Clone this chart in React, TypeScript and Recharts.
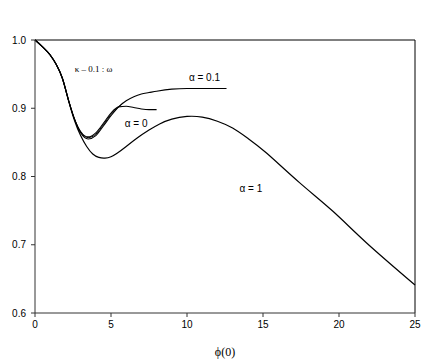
import React from 'react';
import {
  LineChart,
  Line,
  XAxis,
  YAxis,
  ReferenceLine,
  ReferenceDot,
} from 'recharts';

// x = phi(0), y = value
const alpha0 = [
  { x: 0, y: 1.0 }, { x: 0.5, y: 0.99 }, { x: 1.0, y: 0.978 }, { x: 1.4, y: 0.964 },
  { x: 1.8, y: 0.944 }, { x: 2.2, y: 0.912 }, { x: 2.6, y: 0.884 }, { x: 3.0, y: 0.866 },
  { x: 3.5, y: 0.858 }, { x: 4.0, y: 0.864 }, { x: 4.5, y: 0.878 }, { x: 5.0, y: 0.893 },
  { x: 5.5, y: 0.902 }, { x: 6.0, y: 0.903 }, { x: 6.5, y: 0.901 }, { x: 7.0, y: 0.899 },
  { x: 7.5, y: 0.898 }, { x: 8.0, y: 0.898 },
];

const alphaMid = [
  { x: 0, y: 1.0 }, { x: 0.5, y: 0.99 }, { x: 1.0, y: 0.978 }, { x: 1.4, y: 0.964 },
  { x: 1.8, y: 0.944 }, { x: 2.2, y: 0.912 }, { x: 2.6, y: 0.884 }, { x: 3.0, y: 0.865 },
  { x: 3.5, y: 0.857 }, { x: 4.0, y: 0.862 }, { x: 4.5, y: 0.876 }, { x: 5.0, y: 0.891 },
  { x: 5.5, y: 0.902 }, { x: 5.8, y: 0.908 },
];

const alpha01 = [
  { x: 0, y: 1.0 }, { x: 0.5, y: 0.99 }, { x: 1.0, y: 0.978 }, { x: 1.4, y: 0.964 },
  { x: 1.8, y: 0.944 }, { x: 2.2, y: 0.912 }, { x: 2.6, y: 0.884 }, { x: 3.0, y: 0.864 },
  { x: 3.5, y: 0.855 }, { x: 4.0, y: 0.86 }, { x: 4.5, y: 0.874 }, { x: 5.0, y: 0.889 },
  { x: 5.5, y: 0.902 }, { x: 6.0, y: 0.911 }, { x: 6.5, y: 0.917 }, { x: 7.0, y: 0.921 },
  { x: 7.5, y: 0.923 }, { x: 8.0, y: 0.925 }, { x: 9.0, y: 0.928 }, { x: 10.0, y: 0.929 },
  { x: 11.0, y: 0.929 }, { x: 12.0, y: 0.929 }, { x: 12.6, y: 0.929 },
];

const alpha1 = [
  { x: 0, y: 1.0 }, { x: 0.5, y: 0.99 }, { x: 1.0, y: 0.978 }, { x: 1.4, y: 0.964 },
  { x: 1.8, y: 0.944 }, { x: 2.2, y: 0.912 }, { x: 2.6, y: 0.882 }, { x: 3.0, y: 0.86 },
  { x: 3.4, y: 0.844 }, { x: 3.8, y: 0.833 }, { x: 4.2, y: 0.828 }, { x: 4.6, y: 0.827 },
  { x: 5.0, y: 0.829 }, { x: 5.4, y: 0.834 }, { x: 6.0, y: 0.844 }, { x: 6.7, y: 0.856 },
  { x: 7.5, y: 0.868 }, { x: 8.2, y: 0.877 }, { x: 9.0, y: 0.884 }, { x: 10.0, y: 0.888 },
  { x: 11.0, y: 0.887 }, { x: 12.0, y: 0.881 }, { x: 13.0, y: 0.871 }, { x: 14.0, y: 0.856 },
  { x: 15.25, y: 0.834 }, { x: 17.4, y: 0.791 }, { x: 19.6, y: 0.749 }, { x: 21.8, y: 0.703 },
  { x: 25.0, y: 0.641 },
];

const xTicks = [0, 5, 10, 15, 20, 25];
const yTicks = [0.6, 0.7, 0.8, 0.9, 1.0];

const notes = [
  { x: 3.85, y: 0.9585, text: 'κ – 0.1 : ω', serif: true },
  { x: 11.15, y: 0.945, text: 'α = 0.1', serif: false },
  { x: 6.65, y: 0.878, text: 'α = 0', serif: false },
  { x: 14.2, y: 0.783, text: 'α = 1', serif: false },
];

const sans = '"Liberation Sans", Arial, sans-serif';
const serif = '"Liberation Serif", "DejaVu Serif", serif';

const App = () => {
  return (
    <div style={{ position: 'absolute', left: 0, top: 0, width: 436, height: 362 }}>
      <LineChart width={436} height={362} margin={{ top: 40, right: 21, left: 0, bottom: 0 }}>
        <XAxis
          type="number"
          dataKey="x"
          domain={[0, 25]}
          ticks={xTicks}
          allowDuplicatedCategory={false}
          height={49}
          stroke="#333"
          tickSize={4}
          tickMargin={4}
          tick={{ fontSize: 10, fill: '#000', fontFamily: sans }}
        />
        <YAxis
          type="number"
          domain={[0.6, 1.0]}
          ticks={yTicks}
          width={35}
          stroke="#333"
          tickSize={4}
          tickMargin={5}
          tickFormatter={(v: number) => v.toFixed(1)}
          tick={{ fontSize: 10, fill: '#000', fontFamily: sans }}
        />
        <ReferenceLine y={1.0} stroke="#000" strokeWidth={1} />
        <ReferenceLine x={25} stroke="#000" strokeWidth={1} />

        <Line data={alpha1} dataKey="y" type="natural" stroke="#000" strokeWidth={1.2} dot={false} isAnimationActive={false} />
        <Line data={alpha0} dataKey="y" type="monotone" stroke="#000" strokeWidth={1.1} dot={false} isAnimationActive={false} />
        <Line data={alphaMid} dataKey="y" type="monotone" stroke="#000" strokeWidth={1} dot={false} isAnimationActive={false} />
        <Line data={alpha01} dataKey="y" type="monotone" stroke="#000" strokeWidth={1.1} dot={false} isAnimationActive={false} />

        {notes.map((n, i) => (
          <ReferenceDot
            key={i}
            x={n.x}
            y={n.y}
            r={0}
            stroke="none"
            fill="none"
            label={{
              value: n.text,
              position: 'center',
              fontSize: n.serif ? 9 : 10,
              fill: '#000',
              fontFamily: n.serif ? serif : sans,
            }}
          />
        ))}
      </LineChart>
      {/* x-axis title, serif like the original */}
      <div
        style={{
          position: 'absolute',
          left: 185,
          width: 80,
          top: 345,
          textAlign: 'center',
          fontFamily: serif,
          fontSize: 12,
          color: '#000',
        }}
      >
        ϕ(0)
      </div>
    </div>
  );
};

export default App;
